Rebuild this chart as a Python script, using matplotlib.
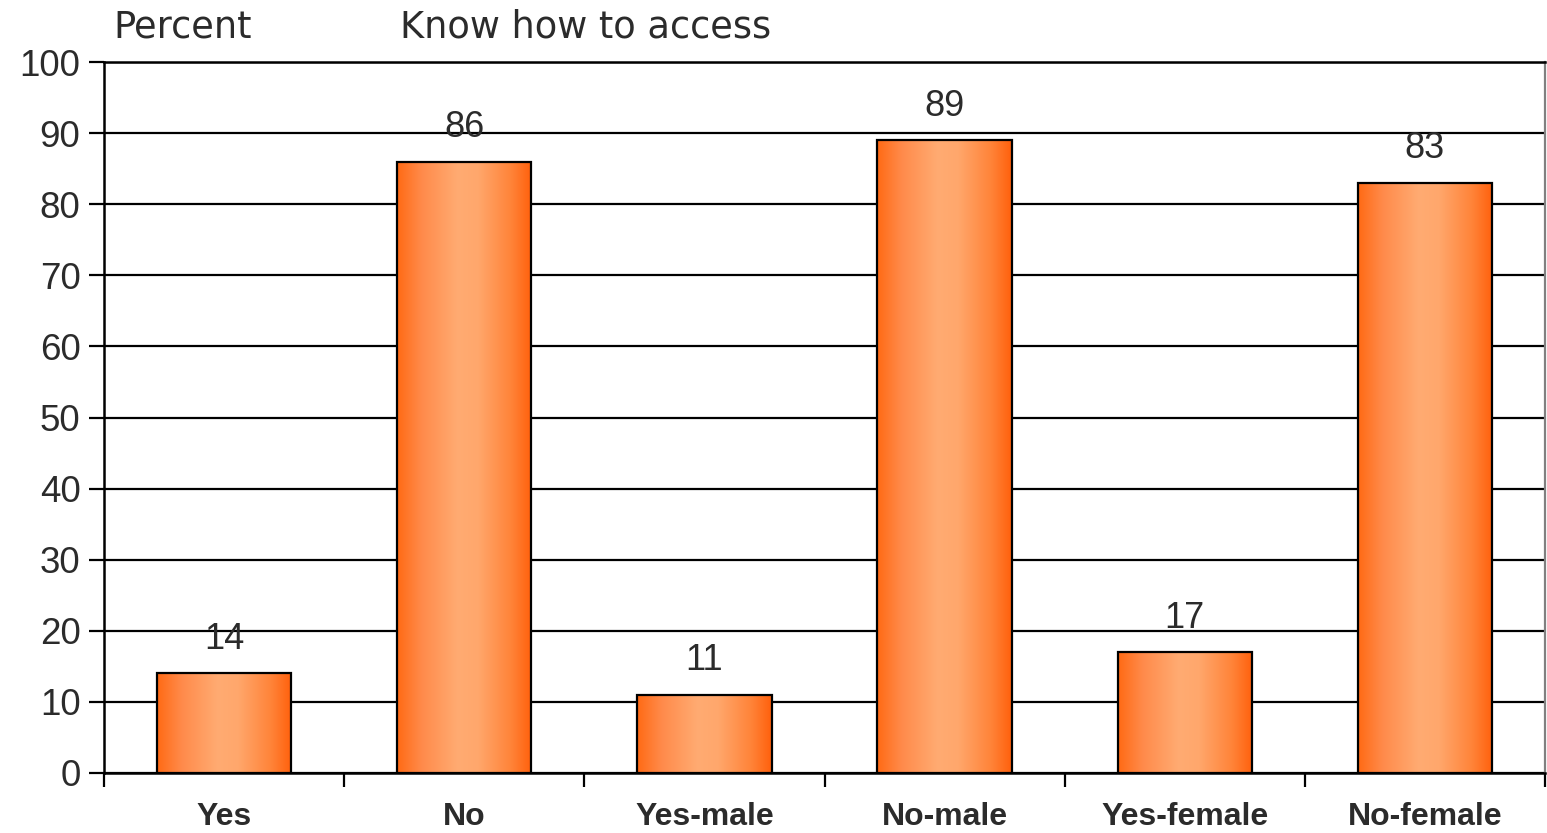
import numpy as np
import matplotlib.pyplot as plt
from matplotlib.colors import LinearSegmentedColormap

# data
categories = ['Yes', 'No', 'Yes-male', 'No-male', 'Yes-female', 'No-female']
values = [14, 86, 11, 89, 17, 83]
y_ticks = [0, 10, 20, 30, 40, 50, 60, 70, 80, 90, 100]

bar_width = 0.56
text_color = '#2b2b2b'

# horizontal orange gradient: dark edges, light middle
grad = LinearSegmentedColormap.from_list(
    'orange_grad',
    [(0.0, '#ff6a14'), (0.18, '#ff8a4a'), (0.45, '#ffab72'),
     (0.6, '#ffa76c'), (0.85, '#ff8338'), (1.0, '#ff600c')])

fig = plt.figure(figsize=(15.47, 8.33), dpi=100)
ax = fig.add_axes([104 / 1547, 60 / 833, 1441 / 1547, 711 / 833])

x = np.arange(len(categories))
bars = ax.bar(x, values, width=bar_width, facecolor='none',
              edgecolor='black', linewidth=1.6, zorder=4)

gradient = np.linspace(0, 1, 256).reshape(1, -1)
for b in bars:
    x0, w, h = b.get_x(), b.get_width(), b.get_height()
    ax.imshow(gradient, cmap=grad, aspect='auto',
              extent=(x0, x0 + w, 0, h), zorder=3, interpolation='bicubic')

for xi, v in zip(x, values):
    ax.text(xi, v + 4.8, str(v), ha='center', va='center',
            fontsize=26, color=text_color, family='Liberation Sans', zorder=5)

ax.set_xlim(-0.5, len(categories) - 0.5)
ax.set_ylim(0, 100)
ax.set_yticks(y_ticks)
ax.set_yticklabels([str(t) for t in y_ticks], fontsize=26.5,
                   color=text_color, family='Liberation Sans')
ax.yaxis.grid(True, color='black', linewidth=1.6, zorder=1)
ax.set_axisbelow(True)

# category labels centered, ticks at category boundaries
ax.set_xticks(x)
ax.set_xticklabels(categories, fontsize=23, fontweight='bold',
                   color=text_color, family='Liberation Sans')
ax.tick_params(axis='x', length=0, pad=21)
ax.set_xticks(np.arange(-0.5, len(categories)), minor=True)
ax.tick_params(axis='x', which='minor', length=10, width=1.6, direction='out')
ax.tick_params(axis='y', length=11, width=1.6, direction='out', pad=6)

for side in ['left', 'bottom', 'top']:
    ax.spines[side].set_linewidth(1.8)
    ax.spines[side].set_color('black')
ax.spines['right'].set_color('#808080')
ax.spines['right'].set_linewidth(1.6)

fig.text(113 / 1547, 1 - 27 / 833, 'Percent', fontsize=26.5, color=text_color,
         ha='left', va='center', family='DejaVu Sans')
fig.text(400 / 1547, 1 - 27 / 833, 'Know how to access', fontsize=26.5,
         color=text_color, ha='left', va='center', family='DejaVu Sans')

fig.savefig('out.png', dpi=100)
